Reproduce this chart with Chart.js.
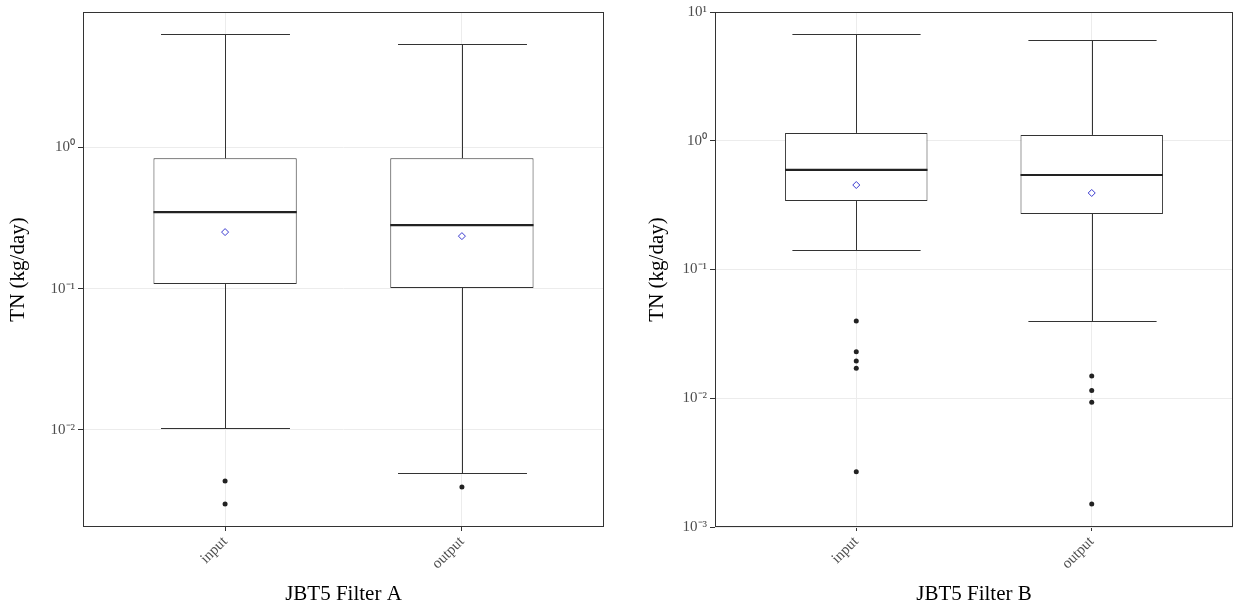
<!DOCTYPE html>
<html>
<head>
<meta charset="utf-8">
<script src="https://cdn.jsdelivr.net/npm/chart.js@4.4.0/dist/chart.umd.min.js"></script>
<style>
body { margin: 0; background: #fff; }
#wrap { position: relative; width: 1238px; height: 608px; }
canvas { position: absolute; top: 0; }
</style>
</head>
<body>
<div id="wrap">
  <canvas id="graficoA" width="620" height="608" style="left:0"></canvas>
  <canvas id="graficoB" width="618" height="608" style="left:620px"></canvas>
</div>
<script>
// categorias e posicoes no eixo x
const categorias = ['input', 'output'];
const posicoes = [1, 2];

// Filter A
const aMax = [6.29, 5.35];
const aQ3 = [0.836, 0.836];
const aMediana = [0.347, 0.281];
const aMedia = [0.251, 0.235];
const aQ1 = [0.1076, 0.101];
const aMin = [0.0103, 0.00497];
const aOutliers = [[0.00436, 0.0030], [0.00395]];
const aTicks = [1, 0.1, 0.01];
const aTickLabels = ['10\u2070', '10\u207B\u00B9', '10\u207B\u00B2'];

// Filter B
const bMax = [6.74, 6.06];
const bQ3 = [1.15, 1.11];
const bMediana = [0.593, 0.542];
const bMedia = [0.453, 0.393];
const bQ1 = [0.340, 0.270];
const bMin = [0.1416, 0.0398];
const bOutliers = [[0.0398, 0.0230, 0.0195, 0.0171, 0.00269], [0.0149, 0.0115, 0.0093, 0.00151]];
const bTicks = [10, 1, 0.1, 0.01, 0.001];
const bTickLabels = ['10\u00B9', '10\u2070', '10\u207B\u00B9', '10\u207B\u00B2', '10\u207B\u00B3'];

Chart.defaults.font.family = "'Liberation Serif', 'Times New Roman', serif";

function pluginBox(st) {
    return {
        id: 'boxExtras',
        afterDatasetsDraw(chart) {
            const ctx = chart.ctx;
            const x = chart.scales.x, y = chart.scales.y;
            const caixas = chart.getDatasetMeta(2).data;
            ctx.save();
            ctx.strokeStyle = '#333333';
            posicoes.forEach((p, i) => {
                const cx = Math.round(x.getPixelForValue(p)) + 0.5;
                const meia = caixas[i].width / 2;
                const capa = meia * 0.9;
                const yMax = Math.round(y.getPixelForValue(st.max[i])) + 0.5;
                const yMin = Math.round(y.getPixelForValue(st.min[i])) + 0.5;
                ctx.lineWidth = 1;
                ctx.beginPath();
                ctx.moveTo(cx, y.getPixelForValue(st.q3[i]));
                ctx.lineTo(cx, yMax);
                ctx.moveTo(cx, y.getPixelForValue(st.q1[i]));
                ctx.lineTo(cx, yMin);
                ctx.moveTo(cx - capa, yMax);
                ctx.lineTo(cx + capa, yMax);
                ctx.moveTo(cx - capa, yMin);
                ctx.lineTo(cx + capa, yMin);
                ctx.stroke();
                // mediana
                const yMed = y.getPixelForValue(st.med[i]);
                ctx.lineWidth = 2.2;
                ctx.strokeStyle = '#222222';
                ctx.beginPath();
                ctx.moveTo(caixas[i].x - meia, yMed);
                ctx.lineTo(caixas[i].x + meia, yMed);
                ctx.stroke();
                ctx.strokeStyle = '#333333';
            });
            ctx.restore();
        },
        afterDraw(chart) {
            const a = chart.chartArea;
            const ctx = chart.ctx;
            ctx.save();
            ctx.strokeStyle = '#333333';
            ctx.lineWidth = 1;
            ctx.strokeRect(a.left + 0.5, a.top + 0.5, a.right - a.left - 1, a.bottom - a.top - 1);
            ctx.restore();
        }
    };
}

function criarGrafico(id, st, cfg) {
    const canvas = document.getElementById(id);
    const pontosOut = [];
    st.out.forEach((lista, i) => lista.forEach(v => pontosOut.push({ x: posicoes[i], y: v })));

    new Chart(canvas, {
        type: 'bar',
        data: {
            datasets: [
                {
                    type: 'scatter',
                    data: posicoes.map((p, i) => ({ x: p, y: st.media[i] })),
                    pointStyle: 'rectRot',
                    pointRadius: 3.5,
                    borderColor: '#3a3ad0',
                    backgroundColor: '#ffffff',
                    borderWidth: 1
                },
                {
                    type: 'scatter',
                    data: pontosOut,
                    pointRadius: 2.5,
                    borderWidth: 0,
                    backgroundColor: '#222222'
                },
                {
                    type: 'bar',
                    data: posicoes.map((p, i) => ({ x: p, y: [st.q1[i], st.q3[i]] })),
                    backgroundColor: '#ffffff',
                    borderColor: '#333333',
                    borderWidth: 1,
                    borderSkipped: false,
                    categoryPercentage: 1,
                    barPercentage: 0.605
                }
            ]
        },
        options: {
            responsive: false,
            animation: false,
            layout: { padding: { top: cfg.top, right: cfg.right, left: 0, bottom: 0 } },
            plugins: {
                legend: { display: false },
                tooltip: { enabled: false }
            },
            scales: {
                x: {
                    type: 'linear',
                    min: 0.4,
                    max: 2.6,
                    offset: false,
                    afterBuildTicks: s => { s.ticks = posicoes.map(v => ({ value: v })); },
                    afterFit: s => { s.height = 81; },
                    grid: { color: '#ececec', tickColor: '#333333', tickLength: 4, offset: false },
                    border: { display: false },
                    ticks: {
                        autoSkip: false,
                        minRotation: 45,
                        maxRotation: 45,
                        padding: 2,
                        color: '#4d4d4d',
                        font: { size: 15 },
                        callback: (v, i) => categorias[i]
                    },
                    title: {
                        display: true,
                        text: cfg.xTitulo,
                        color: '#000000',
                        font: { size: 21 },
                        padding: { top: 0, bottom: 1 }
                    }
                },
                y: {
                    type: 'logarithmic',
                    min: cfg.yMin,
                    max: cfg.yMax,
                    afterBuildTicks: s => { s.ticks = cfg.ticks.map(v => ({ value: v })); },
                    afterFit: s => { s.width = cfg.yLargura; },
                    grid: { color: '#ececec', tickColor: '#333333', tickLength: 5 },
                    border: { display: false },
                    ticks: {
                        autoSkip: false,
                        padding: 3,
                        color: '#4d4d4d',
                        font: { size: 15 },
                        callback: (v, i) => cfg.tickLabels[i]
                    },
                    title: {
                        display: true,
                        text: 'TN (kg/day)',
                        color: '#000000',
                        font: { size: 21 },
                        padding: { top: cfg.tituloPad, bottom: 0 }
                    }
                }
            }
        },
        plugins: [pluginBox(st)]
    });
}

criarGrafico('graficoA',
    { max: aMax, q3: aQ3, med: aMediana, media: aMedia, q1: aQ1, min: aMin, out: aOutliers },
    { top: 11, right: 16, yLargura: 83, yMin: 0.00206, yMax: 9.04, ticks: aTicks, tickLabels: aTickLabels, xTitulo: 'JBT5 Filter A', tituloPad: 6 });

criarGrafico('graficoB',
    { max: bMax, q3: bQ3, med: bMediana, media: bMedia, q1: bQ1, min: bMin, out: bOutliers },
    { top: 12, right: 3, yLargura: 95, yMin: 0.001, yMax: 10, ticks: bTicks, tickLabels: bTickLabels, xTitulo: 'JBT5 Filter B', tituloPad: 25 });
</script>
</body>
</html>
